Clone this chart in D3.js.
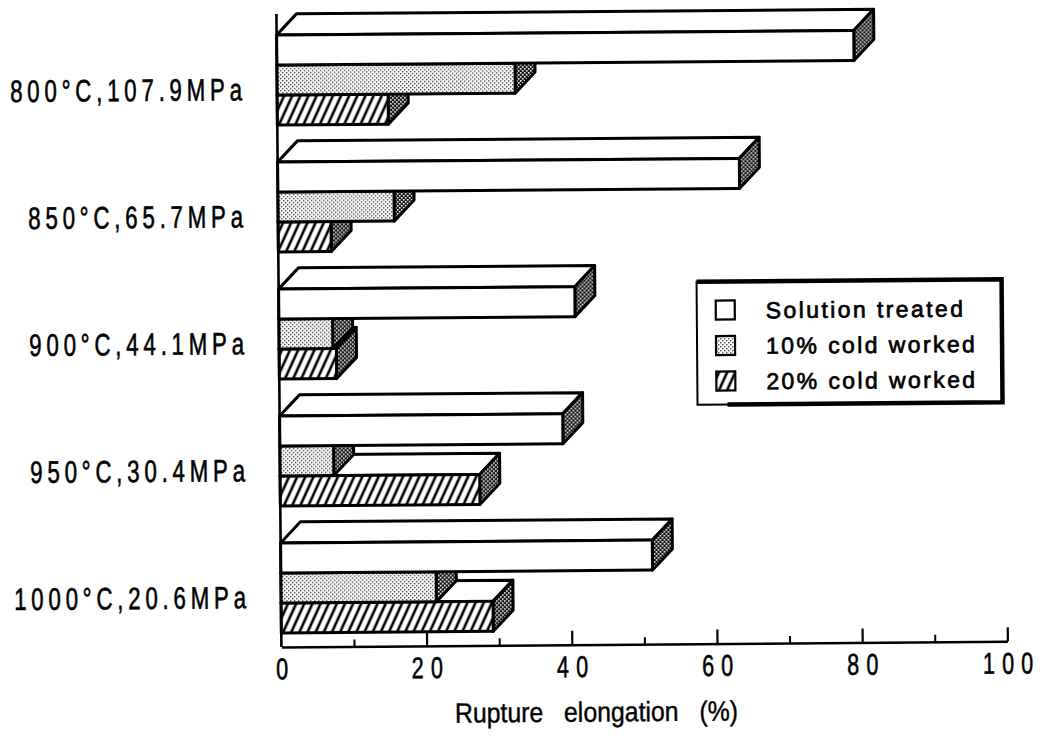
<!DOCTYPE html>
<html>
<head>
<meta charset="utf-8">
<script src="https://cdn.jsdelivr.net/npm/d3@7"></script>
<style>
  html, body { margin: 0; padding: 0; background: #fff; }
  svg { display: block; }
  .lbl { font-family: "Liberation Sans", Arial, Helvetica, sans-serif; fill: #000; }
</style>
</head>
<body>
<svg id="chart" width="1040" height="740"></svg>
<script>
// Creep test conditions (temperature, stress)
const categories = ["800°C,107.9MPa", "850°C,65.7MPa", "900°C,44.1MPa", "950°C,30.4MPa", "1000°C,20.6MPa"];
const seriesNames = ["Solution treated", "10% cold worked", "20% cold worked"];

// Rupture elongation (%) per condition
const solutionTreated = [79.5, 63.6, 40.8, 39.0, 51.2];
const coldWorked10    = [32.8, 16.0, 7.4, 7.4, 21.4];
const coldWorked20    = [15.3, 7.3, 7.9, 27.5, 29.2];

const majorTicks = [0, 20, 40, 60, 80, 100];
const minorTicks = [10, 30, 50, 70, 90];
const axisTitle = "Rupture   elongation   (%)";

const seriesValues = [solutionTreated, coldWorked10, coldWorked20];
const seriesFills = ["#ffffff", "url(#lightDots)", "url(#hatch)"];

const NARROW = 0.72;   // horizontal squeeze for the condensed, letter-spaced lettering

const svg = d3.select("#chart");

// ---- fill patterns ----
const defs = svg.append("defs");

const dark = defs.append("pattern").attr("id", "darkDots")
  .attr("patternUnits", "userSpaceOnUse").attr("width", 4).attr("height", 4);
dark.append("rect").attr("width", 4).attr("height", 4).attr("fill", "#111");
dark.append("rect").attr("x", 0).attr("y", 0).attr("width", 1.6).attr("height", 1.6).attr("fill", "#fff");
dark.append("rect").attr("x", 2).attr("y", 2).attr("width", 1.6).attr("height", 1.6).attr("fill", "#fff");

const light = defs.append("pattern").attr("id", "lightDots")
  .attr("patternUnits", "userSpaceOnUse").attr("width", 4).attr("height", 4);
light.append("rect").attr("width", 4).attr("height", 4).attr("fill", "#fff");
light.append("rect").attr("x", 0).attr("y", 0).attr("width", 1.4).attr("height", 1.4).attr("fill", "#444");
light.append("rect").attr("x", 2).attr("y", 2).attr("width", 1.4).attr("height", 1.4).attr("fill", "#444");

const hatch = defs.append("pattern").attr("id", "hatch")
  .attr("patternUnits", "userSpaceOnUse").attr("width", 7.4).attr("height", 10)
  .attr("patternTransform", "rotate(25)");
hatch.append("rect").attr("width", 7.4).attr("height", 10).attr("fill", "#fff");
hatch.append("line").attr("x1", 3.7).attr("x2", 3.7).attr("y1", -1).attr("y2", 11)
  .attr("stroke", "#000").attr("stroke-width", 2.6);

// whole figure sits slightly tilted on the page
const g = svg.append("g").attr("transform", "rotate(-0.45,280,340)");

// ---- scales ----
const x = d3.scaleLinear().domain([0, 100]).range([279, 1005]);
const DX = 20, DY = 21;           // depth offset of the 3-D boxes
const y = d3.scaleBand().domain(categories).range([14, 633]).paddingInner(16 / 127);
const ySub = d3.scaleBand().domain(seriesNames).range([DY, y.bandwidth()]);

const poly = pts => "M" + pts.map(p => p.join(",")).join("L") + "Z";

// ---- 3-D bars (lower series first so upper boxes overlap them) ----
const bars = g.append("g").attr("stroke", "#000").attr("stroke-width", 3)
  .attr("stroke-linejoin", "round");

categories.forEach((cat, i) => {
  for (let s = seriesNames.length - 1; s >= 0; s--) {
    const x0 = x(0);
    const x1 = x(seriesValues[s][i]);
    const yt = y(cat) + ySub(seriesNames[s]);
    const h = ySub.bandwidth();
    const box = bars.append("g");
    box.append("path").attr("fill", "#fff")
      .attr("d", poly([[x0, yt], [x0 + DX, yt - DY], [x1 + DX, yt - DY], [x1, yt]]));
    box.append("path").attr("fill", "url(#darkDots)")
      .attr("d", poly([[x1, yt], [x1 + DX, yt - DY], [x1 + DX, yt + h - DY], [x1, yt + h]]));
    box.append("path").attr("fill", seriesFills[s])
      .attr("d", poly([[x0, yt], [x1, yt], [x1, yt + h], [x0, yt + h]]));
  }
});

// ---- axes ----
const baseY = 647;

g.append("line")
  .attr("x1", x(0)).attr("x2", x(0)).attr("y1", 14).attr("y2", baseY)
  .attr("stroke", "#000").attr("stroke-width", 2.6);

const minorAxis = g.append("g").attr("transform", `translate(0,${baseY})`)
  .call(d3.axisBottom(x).tickValues(minorTicks).tickSizeInner(-7).tickSizeOuter(0).tickFormat(""));
minorAxis.select(".domain").remove();
minorAxis.selectAll(".tick line").attr("stroke", "#000").attr("stroke-width", 2);

const majorAxis = g.append("g").attr("transform", `translate(0,${baseY})`)
  .call(d3.axisBottom(x).tickValues(majorTicks).tickSizeInner(-14).tickSizeOuter(0)
    .tickPadding(11).tickFormat(d3.format("d")));
majorAxis.select(".domain").attr("stroke", "#000").attr("stroke-width", 2.6);
majorAxis.selectAll(".tick line").attr("stroke", "#000").attr("stroke-width", 2.2)
  .filter(d => d === 0).remove();
const tickSpacing = 10;
majorAxis.selectAll(".tick text")
  .attr("class", "lbl")
  .attr("font-family", null)
  .attr("font-size", 30)
  .attr("letter-spacing", tickSpacing)
  .attr("dx", tickSpacing / 2)
  .attr("transform", `scale(${NARROW},1)`)
  .attr("stroke", "#000").attr("stroke-width", 0.6);

// axis title
g.append("text")
  .attr("class", "lbl")
  .attr("x", 452).attr("y", 724)
  .attr("font-size", 28)
  .attr("textLength", 283)
  .attr("lengthAdjust", "spacingAndGlyphs")
  .attr("stroke", "#000").attr("stroke-width", 0.4)
  .style("white-space", "pre")
  .text(axisTitle);

// category labels
const catSpacing = 6.6;
g.append("g").selectAll("text").data(categories).join("text")
  .attr("class", "lbl")
  .attr("transform", d => `translate(244,${y(d) + ySub(seriesNames[0]) + 65}) scale(${NARROW},1)`)
  .attr("text-anchor", "end")
  .attr("dx", catSpacing)
  .attr("font-size", 31)
  .attr("letter-spacing", catSpacing)
  .attr("stroke", "#000").attr("stroke-width", 0.6)
  .text(d => d);

// ---- legend ----
const lg = g.append("g");
const L = { x0: 697, y0: 285, x1: 1002, y1: 408 };
lg.append("rect").attr("x", L.x0).attr("y", L.y0)
  .attr("width", L.x1 - L.x0).attr("height", L.y1 - L.y0)
  .attr("fill", "#fff").attr("stroke", "#000").attr("stroke-width", 2);
lg.append("path")
  .attr("d", `M${L.x0},${L.y0}L${L.x1},${L.y0}L${L.x1},${L.y1}L${L.x0 + 30},${L.y1}`)
  .attr("fill", "none").attr("stroke", "#000").attr("stroke-width", 4.5);

const legendRowY = d3.scalePoint().domain(seriesNames).range([314, 385]);
const rows = lg.selectAll("g.row").data(seriesNames).join("g").attr("class", "row")
  .attr("transform", d => `translate(0,${legendRowY(d)})`);
rows.append("rect")
  .attr("x", 716).attr("y", -10).attr("width", 19).attr("height", 19)
  .attr("fill", (d, i) => seriesFills[i])
  .attr("stroke", "#000").attr("stroke-width", 2.2);
rows.append("text")
  .attr("class", "lbl")
  .attr("x", 766).attr("y", 8)
  .attr("font-size", 23)
  .attr("letter-spacing", 2.4)
  .attr("stroke", "#000").attr("stroke-width", 0.7)
  .text(d => d);
</script>
</body>
</html>
